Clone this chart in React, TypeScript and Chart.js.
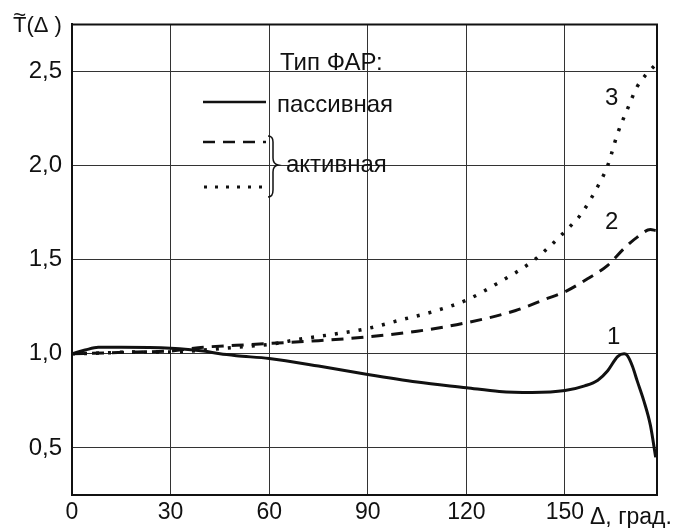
import React, { useEffect, useRef } from "react";
import { Chart, registerables } from "chart.js";

Chart.register(...registerables);

// ---- data ----
const passiveX = [0, 4, 8, 15, 30, 40, 45, 50, 60, 75, 90, 105, 120, 130, 140, 150, 156, 160, 163, 166, 168, 169, 170.5, 172, 174, 176, 177.6];
const passiveY = [1.0, 1.02, 1.035, 1.035, 1.03, 1.015, 1.0, 0.99, 0.975, 0.935, 0.89, 0.85, 0.82, 0.8, 0.795, 0.805, 0.83, 0.86, 0.91, 0.985, 1.0, 0.99, 0.935, 0.855, 0.75, 0.62, 0.45];

const activeDashX = [0, 10, 20, 30, 40, 50, 60, 75, 90, 105, 120, 135, 144, 150, 157, 163, 168, 172, 176, 177.6];
const activeDashY = [1.0, 1.005, 1.01, 1.015, 1.035, 1.045, 1.055, 1.07, 1.09, 1.12, 1.165, 1.23, 1.29, 1.33, 1.4, 1.47, 1.56, 1.62, 1.66, 1.655];

const activeDotX = [0, 10, 20, 30, 40, 50, 60, 70, 80, 90, 100, 110, 120, 130, 140, 145, 150, 155, 160, 163, 166, 169, 172, 174.5, 177.2];
const activeDotY = [1.0, 1.005, 1.01, 1.01, 1.02, 1.035, 1.05, 1.08, 1.105, 1.135, 1.18, 1.225, 1.285, 1.38, 1.49, 1.565, 1.65, 1.745, 1.89, 2.0, 2.17, 2.3, 2.42, 2.48, 2.53];

const xTicks = [0, 30, 60, 90, 120, 150];
const yTicks = [0.5, 1.0, 1.5, 2.0, 2.5];
const yTickLabels = ["0,5", "1,0", "1,5", "2,0", "2,5"];

const curveLabels = ["1", "2", "3"];
const curveLabelX = [164.8, 164.2, 164.2];
const curveLabelY = [1.085, 1.696, 2.356];

const FONT = '"Liberation Sans", Arial, sans-serif';
const INK = "#111";

const pts = (xs: number[], ys: number[]) => xs.map((x, i) => ({ x, y: ys[i] }));

const decorPlugin = {
  id: "decor",
  afterDraw(chart: any) {
    const ctx = chart.ctx as CanvasRenderingContext2D;
    const { left, right, top, bottom } = chart.chartArea;
    const xs = chart.scales.x;
    const ys = chart.scales.y;
    ctx.save();
    // frame top/right
    ctx.strokeStyle = INK;
    ctx.lineWidth = 2;
    ctx.setLineDash([]);
    ctx.beginPath();
    ctx.moveTo(left, top);
    ctx.lineTo(right, top);
    ctx.lineTo(right, bottom);
    ctx.stroke();

    ctx.fillStyle = INK;
    // y title
    ctx.font = `22px ${FONT}`;
    ctx.textAlign = "left";
    ctx.textBaseline = "alphabetic";
    ctx.fillText("T(Δ )", 13, 32);
    const tw = ctx.measureText("T").width;
    ctx.font = `22px ${FONT}`;
    ctx.textAlign = "center";
    ctx.fillText("~", 13 + tw / 2, 22);

    // x title
    ctx.font = `23px ${FONT}`;
    ctx.textAlign = "left";
    ctx.fillText("Δ, град.", 590, 524);

    // legend
    ctx.font = `24px ${FONT}`;
    ctx.fillText("Тип ФАР:", 280, 70);
    ctx.fillText("пассивная", 277, 112);
    ctx.fillText("активная", 286, 172);

    ctx.lineWidth = 2.5;
    ctx.beginPath();
    ctx.moveTo(203, 102);
    ctx.lineTo(266, 102);
    ctx.stroke();

    ctx.setLineDash([12, 8]);
    ctx.beginPath();
    ctx.moveTo(203, 142);
    ctx.lineTo(266, 142);
    ctx.stroke();

    ctx.lineWidth = 3;
    ctx.setLineDash([3, 8]);
    ctx.beginPath();
    ctx.moveTo(204, 187);
    ctx.lineTo(266, 187);
    ctx.stroke();

    // brace
    ctx.setLineDash([]);
    ctx.lineWidth = 1.5;
    ctx.beginPath();
    ctx.moveTo(268, 136);
    ctx.quadraticCurveTo(273, 136, 273, 142);
    ctx.lineTo(273, 158);
    ctx.quadraticCurveTo(273, 164, 278, 165);
    ctx.quadraticCurveTo(273, 166, 273, 172);
    ctx.lineTo(273, 190);
    ctx.quadraticCurveTo(273, 197, 268, 197);
    ctx.stroke();

    // curve numbers
    ctx.font = `24px ${FONT}`;
    ctx.textAlign = "center";
    ctx.textBaseline = "middle";
    curveLabels.forEach((t, i) => {
      ctx.fillText(t, xs.getPixelForValue(curveLabelX[i]), ys.getPixelForValue(curveLabelY[i]));
    });
    ctx.restore();
  },
};

export default function App() {
  const ref = useRef<HTMLCanvasElement>(null);
  useEffect(() => {
    if (!ref.current) return;
    const chart = new Chart(ref.current, {
      type: "line",
      data: {
        datasets: [
          {
            label: "пассивная",
            data: pts(passiveX, passiveY),
            borderColor: INK,
            borderWidth: 3,
            pointRadius: 0,
            cubicInterpolationMode: "monotone",
            fill: false,
          },
          {
            label: "активная 2",
            data: pts(activeDashX, activeDashY),
            borderColor: INK,
            borderWidth: 3,
            borderDash: [12, 8],
            pointRadius: 0,
            cubicInterpolationMode: "monotone",
            fill: false,
          },
          {
            label: "активная 3",
            data: pts(activeDotX, activeDotY),
            borderColor: INK,
            borderWidth: 3.5,
            borderDash: [3, 9],
            pointRadius: 0,
            cubicInterpolationMode: "monotone",
            fill: false,
          },
        ],
      },
      options: {
        animation: false,
        responsive: false,
        layout: { padding: { top: 13, right: 20, left: 0, bottom: 0 } },
        plugins: { legend: { display: false }, tooltip: { enabled: false } },
        scales: {
          x: {
            type: "linear",
            min: 0,
            max: 178,
            afterBuildTicks: (s: any) => {
              s.ticks = xTicks.map((v) => ({ value: v }));
            },
            afterFit: (s: any) => {
              s.height = 33;
            },
            ticks: {
              color: INK,
              font: { family: FONT, size: 23 },
              padding: 4,
              maxRotation: 0,
              autoSkip: false,
            },
            grid: { color: "#333", lineWidth: 1, drawTicks: false },
            border: { color: INK, width: 2 },
          },
          y: {
            type: "linear",
            min: 0.25,
            max: 2.75,
            afterBuildTicks: (s: any) => {
              s.ticks = yTicks.map((v) => ({ value: v }));
            },
            afterFit: (s: any) => {
              s.width = 72;
            },
            ticks: {
              color: INK,
              font: { family: FONT, size: 24 },
              padding: 10,
              autoSkip: false,
              callback: (v: any) => {
                const i = yTicks.findIndex((t) => Math.abs(t - Number(v)) < 1e-6);
                return i >= 0 ? yTickLabels[i] : "";
              },
            },
            grid: { color: "#333", lineWidth: 1, drawTicks: false },
            border: { color: INK, width: 2 },
          },
        },
      },
      plugins: [decorPlugin],
    });
    return () => chart.destroy();
  }, []);
  return (
    <div style={{ position: "fixed", left: 0, top: 0, width: 677, height: 528, background: "#fff" }}>
      <canvas ref={ref} width={677} height={528} style={{ display: "block" }} />
    </div>
  );
}
